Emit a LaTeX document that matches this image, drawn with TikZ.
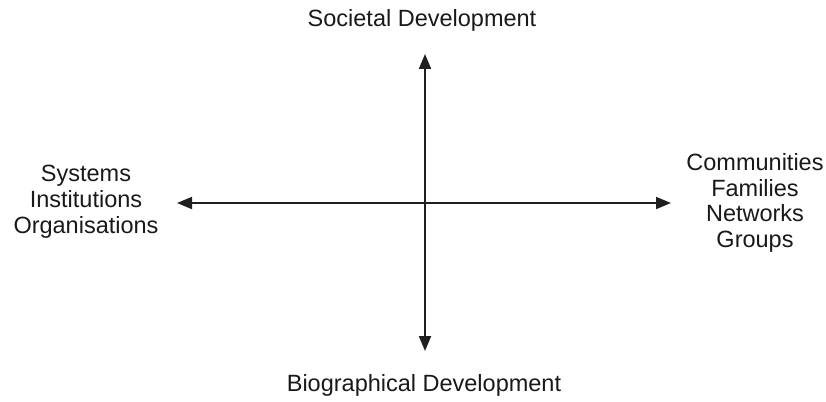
\documentclass[tikz,border=0pt]{standalone}
\usepackage{fontspec}
\setmainfont{Liberation Sans}
\usetikzlibrary{arrows.meta}
\begin{document}
\begin{tikzpicture}[x=1pt,y=-1pt,
  lbl/.style={font=\fontsize{23.5}{25.8}\selectfont, text=black!90, align=center, inner sep=0pt},
  axis/.style={line width=1.9pt, draw=black!88, {Triangle[length=15pt,width=12pt]}-{Triangle[length=15pt,width=12pt]}}]
\useasboundingbox (0,0) rectangle (826,401);
\node[lbl] (top) at (422,20) {Societal Development};
\node[lbl] (bot) at (424,385) {Biographical Development};
\node[lbl] (left) at (86,202) {Systems\\Institutions\\Organisations};
\node[lbl] (right) at (755,203) {Communities\\Families\\Networks\\Groups};
\coordinate (n) at (425,54);
\coordinate (s) at (425,351);
\coordinate (w) at (177,203);
\coordinate (e) at (671,203);
\draw[axis] (n) -- (s);
\draw[axis] (w) -- (e);
\end{tikzpicture}
\end{document}
